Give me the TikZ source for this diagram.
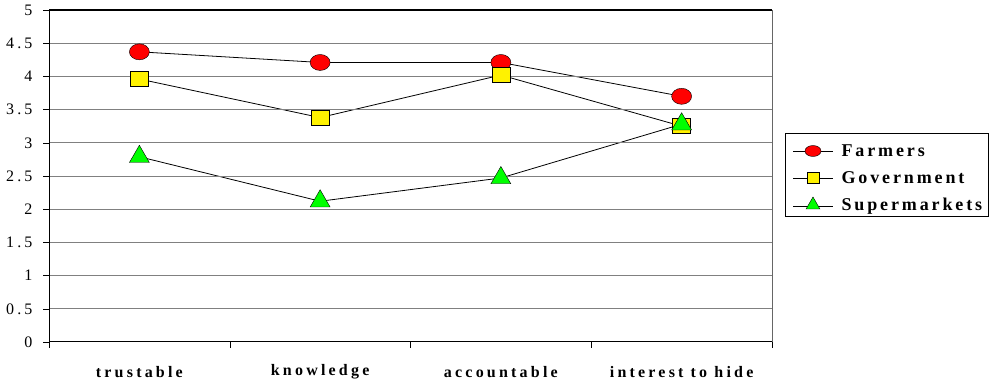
\documentclass[tikz,border=0pt]{standalone}
\usepackage{fontspec}
\setmainfont{Liberation Serif}
\newfontfamily\tickfont[LetterSpace=20]{Liberation Serif}
\newfontfamily\catfont[LetterSpace=20]{Liberation Serif}
\newfontfamily\legfont[LetterSpace=16]{Liberation Serif}
\usepackage{tikz}
\usetikzlibrary{shapes, shapes.geometric, positioning, backgrounds}

\begin{document}
\begin{tikzpicture}[x=1pt, y=1pt]
			\tikzstyle{gridline}=[draw=black!50, line width=0.9]
			\tikzstyle{farmer}=[ellipse, draw=black, fill=red, minimum width=20pt, minimum height=16pt, inner sep=0]
			\tikzstyle{govt}=[rectangle, draw=black, fill=yellow, minimum width=18pt, minimum height=15pt, inner sep=0]
			\tikzstyle{market}=[regular polygon, regular polygon sides=3, draw=black, fill=green, minimum size=23pt, inner sep=0]
			\tikzstyle{series}=[draw=black, line width=0.8]
			\tikzstyle{ticklabel}=[anchor=east, font=\fontsize{16}{16}\selectfont\tickfont]
			\tikzstyle{catlabel}=[font=\fontsize{16}{16}\selectfont\catfont\bfseries]
			\tikzstyle{legtext}=[anchor=west, font=\fontsize{18}{18}\selectfont\legfont\bfseries]
			
			\useasboundingbox (0,0) rectangle (989,383);
			
			\begin{scope}[shift={(49,41)}, x=180.75pt, y=66.4pt]
			%% grid and axes
			\foreach \v in {0.5,1,...,4.5} {
				\draw [gridline] (0,\v) -- (4,\v);
			}
			\draw [draw=black!60, line width=0.9] (4,0) -- (4,5);
			\draw [black, line width=1.3] (0,5) -- (4,5);
			\draw [black, line width=1] (0,0) -- (0,5);
			\draw [black, line width=1] (0,0) -- (4,0);
			\foreach \v in {0,0.5,...,5} {
				\draw [black] (0,\v) -- ++(-6pt,0);
				\node [ticklabel] at (-13pt,\v) {\pgfmathprint{\v}};
			}
			\foreach \c in {0,1,2,3,4} {
				\draw [black] (\c,0) -- ++(0,-6pt);
			}
			
			\node (c1) at (0.5,-0.45) [catlabel] {trustable};
			\node (c2) at (1.5,-0.45) [catlabel] {knowledge};
			\node (c3) at (2.5,-0.45) [catlabel] {accountable};
			\node (c4) at (3.5,-0.45) [catlabel] {interest to hide};
			
			%% data points
			\node (f1) at (0.5,4.37) [farmer] {};
			\node (f2) at (1.5,4.21) [farmer] {};
			\node (f3) at (2.5,4.21) [farmer] {};
			\node (f4) at (3.5,3.70) [farmer] {};
			
			\node (g1) at (0.5,3.96) [govt] {};
			\node (g2) at (1.5,3.38) [govt] {};
			\node (g3) at (2.5,4.02) [govt] {};
			\node (g4) at (3.5,3.25) [govt] {};
			
			\node (s1) at (0.5,2.79) [market] {};
			\node (s2) at (1.5,2.12) [market] {};
			\node (s3) at (2.5,2.47) [market] {};
			\node (s4) at (3.5,3.28) [market] {};
			
			\begin{pgfonlayer}{background}
			\draw [series] (f1.center) -- (f2.center) -- (f3.center) -- (f4.center);
			\draw [series] (g1.center) -- (g2.center) -- (g3.center) -- (g4.center);
			\draw [series] (s1.center) -- (s2.center) -- (s3.center) -- (s4.center);
			\end{pgfonlayer}
			\end{scope}
			
			%% legend
			\node (leg) at (785,166) [draw=black, line width=0.9, anchor=south west, minimum width=203pt, minimum height=83pt] {};
			
			\coordinate (la1) at (793,232);
			\coordinate (lb1) at (833,232);
			\coordinate (la2) at (793,205);
			\coordinate (lb2) at (833,205);
			\coordinate (la3) at (793,177);
			\coordinate (lb3) at (833,177);
			\draw [series] (la1) -- (lb1);
			\draw [series] (la2) -- (lb2);
			\draw [series] (la3) -- (lb3);
			
			\node (lm1) at (813,232) [farmer, minimum width=16pt, minimum height=11pt] {};
			\node (lm2) at (813,205) [govt, minimum width=12pt, minimum height=11pt] {};
			\node (lm3) at (813,178) [market, minimum size=16pt] {};
			
			\node (lt1) at (838,232) [legtext] {Farmers};
			\node (lt2) at (838,205) [legtext] {Government};
			\node (lt3) at (838,177) [legtext] {Supermarkets};
\end{tikzpicture}
\end{document}
